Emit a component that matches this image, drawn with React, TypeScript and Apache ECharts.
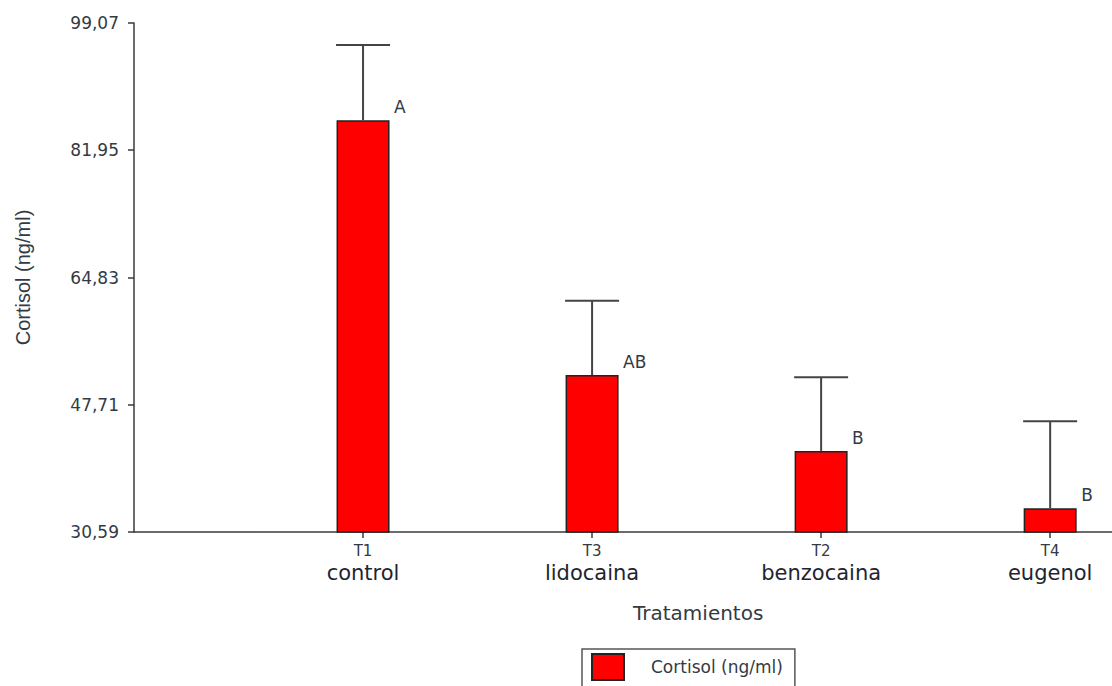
import React, { useEffect, useRef } from "react";
import * as echarts from "echarts";

const codes = ["T1", "T3", "T2", "T4"];
const names = ["control", "lidocaina", "benzocaina", "eugenol"];
const means = [86.0, 51.7, 41.5, 33.8];
const upper = [96.1, 61.7, 51.4, 45.5];
const letters = ["A", "AB", "B", "B"];
const yTicks = [30.59, 47.71, 64.83, 81.95, 99.07];
const positions = [1, 2, 3, 4];

export default function App() {
  const ref = useRef<HTMLDivElement>(null);
  useEffect(() => {
    if (!ref.current) return;
    const chart = echarts.init(ref.current, null, { renderer: "svg" });
    const axisColor = "#3a3a3a";
    const textColor = "#333a44";
    chart.setOption({
      animation: false,
      backgroundColor: "#ffffff",
      grid: { left: 134, right: 0, top: 23, bottom: 154 },
      legend: {
        show: true,
        left: 582,
        top: 649,
        orient: "horizontal",
        data: ["Cortisol (ng/ml)"],
        itemWidth: 32,
        itemHeight: 26,
        borderColor: "#555",
        borderWidth: 1.5,
        borderRadius: 0,
        padding: [4, 12, 8, 9],
        icon: "rect",
        textStyle: {
          fontFamily: "DejaVu Sans",
          fontSize: 17,
          color: textColor,
          padding: [0, 0, 0, 22],
        },
      },
      graphic: [
        {
          type: "text",
          left: 633,
          top: 603,
          style: {
            text: "Tratamientos",
            fontFamily: "DejaVu Sans",
            fontSize: 20,
            fill: textColor,
          },
        },
      ],
      xAxis: {
        type: "value",
        min: 0,
        max: 4.27,
        splitLine: { show: false },
        axisLine: { show: true, lineStyle: { color: axisColor, width: 1.5 } },
        axisTick: {
          show: true,
          length: 6,
          customValues: positions,
          lineStyle: { color: axisColor, width: 1.5 },
        },
        axisLabel: {
          customValues: positions,
          margin: 10,
          formatter: (v: number) => {
            const i = positions.indexOf(Math.round(v));
            if (i < 0) return "";
            return `{a|${codes[i]}}\n{b|${names[i]}}`;
          },
          rich: {
            a: {
              fontFamily: "DejaVu Sans",
              fontSize: 15,
              color: textColor,
              lineHeight: 18,
            },
            b: {
              fontFamily: "DejaVu Sans",
              fontSize: 21,
              color: "#1f2530",
              lineHeight: 26,
            },
          },
        },
      },
      yAxis: {
        type: "value",
        min: yTicks[0],
        max: yTicks[yTicks.length - 1],
        name: "Cortisol (ng/ml)",
        nameLocation: "middle",
        nameGap: 101,
        nameRotate: 90,
        nameTextStyle: {
          fontFamily: "Liberation Sans, Arial",
          fontSize: 20,
          color: textColor,
        },
        splitLine: { show: false },
        axisLine: { show: true, lineStyle: { color: axisColor, width: 1.5 } },
        axisTick: {
          show: true,
          length: 6,
          customValues: yTicks,
          lineStyle: { color: axisColor, width: 1.5 },
        },
        axisLabel: {
          customValues: yTicks,
          margin: 15,
          fontFamily: "DejaVu Sans",
          fontSize: 17,
          color: textColor,
          formatter: (v: number) => v.toFixed(2).replace(".", ","),
        },
      },
      series: [
        {
          name: "Cortisol (ng/ml)",
          type: "bar",
          barWidth: 53,
          data: positions.map((p, i) => [p, means[i]]),
          itemStyle: { color: "#ff0000", borderColor: "#222", borderWidth: 1.5 },
          z: 2,
        },
        {
          name: "err",
          type: "custom",
          z: 3,
          data: positions.map((p, i) => [p, means[i], upper[i], i]),
          renderItem: (params: any, api: any) => {
            const x = api.value(0);
            const low = api.coord([x, api.value(1)]);
            const high = api.coord([x, api.value(2)]);
            const idx = api.value(3);
            const half = 27;
            const ls = { stroke: "#444", lineWidth: 2 };
            return {
              type: "group",
              children: [
                { type: "line", shape: { x1: low[0], y1: low[1], x2: high[0], y2: high[1] }, style: ls },
                { type: "line", shape: { x1: high[0] - half, y1: high[1], x2: high[0] + half, y2: high[1] }, style: ls },
                {
                  type: "text",
                  x: low[0] + 31,
                  y: low[1] - 13,
                  style: {
                    text: letters[idx],
                    fontFamily: "DejaVu Sans",
                    fontSize: 17,
                    fill: textColor,
                    align: "left",
                    verticalAlign: "middle",
                  },
                },
              ],
            };
          },
        },
      ],
    });
    return () => chart.dispose();
  }, []);
  return (
    <div
      ref={ref}
      style={{ position: "absolute", left: 0, top: 0, width: 1112, height: 686 }}
    />
  );
}
